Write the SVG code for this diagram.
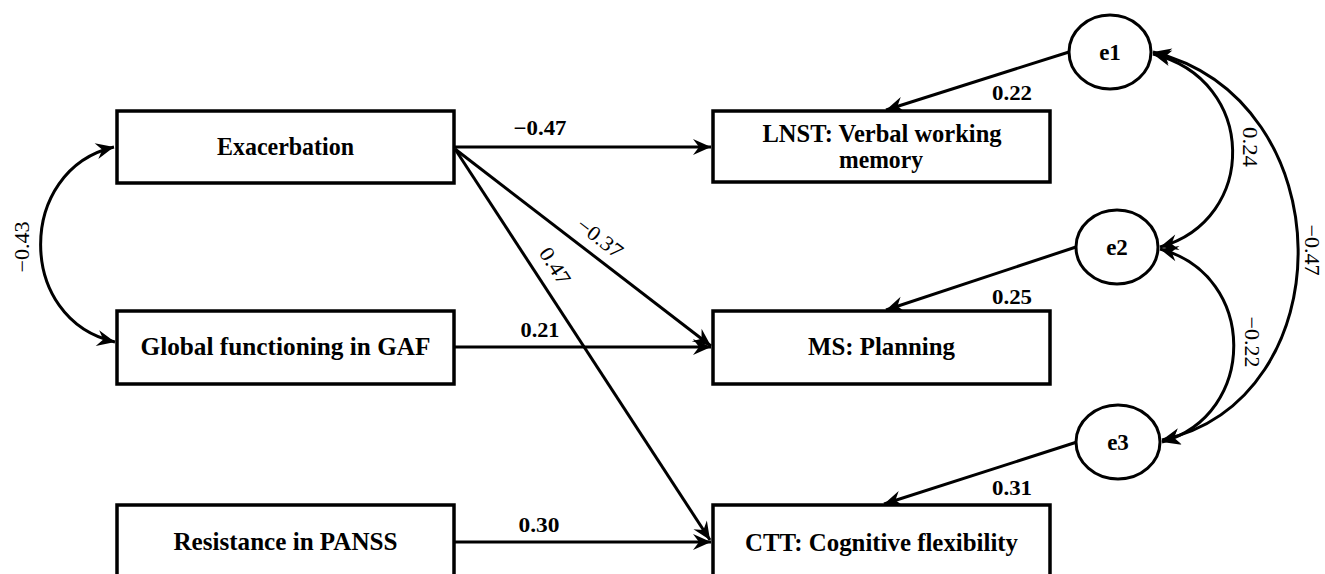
<svg xmlns="http://www.w3.org/2000/svg" width="1325" height="574" viewBox="0 0 1325 574">
<style>
.box{fill:#fff;stroke:#000;stroke-width:3.5}
.ell{fill:#fff;stroke:#000;stroke-width:3}
.lbl{font-family:"Liberation Serif","Times New Roman",serif;font-weight:bold;font-size:25px;text-anchor:middle;fill:#000}
.num{font-family:"Liberation Serif","Times New Roman",serif;font-weight:bold;font-size:21px;text-anchor:middle;fill:#000}
.rnum{font-family:"Liberation Serif","Times New Roman",serif;font-size:21px;text-anchor:middle;fill:#000}
.ln{fill:none;stroke:#000;stroke-width:3}
.one{marker-end:url(#ah)}
.two{marker-start:url(#ah);marker-end:url(#ah)}
</style>
<defs>
<marker id="ah" markerUnits="userSpaceOnUse" markerWidth="24" markerHeight="20" viewBox="-20 -10 24 20" refX="0" refY="0" orient="auto-start-reverse">
<path d="M0,0 L-18,-8 L-12,0 L-18,8 Z" fill="#000"/>
</marker>
</defs>
<rect width="1325" height="574" fill="#fff"/>

<g id="connectors">
<path class="ln two" d="M114,147 C16,170 16,320 115,342"/>
<text class="rnum" transform="translate(29,247) rotate(-90)" x="0" y="0" textLength="51" lengthAdjust="spacingAndGlyphs">−0.43</text>

<path class="ln one" d="M455,147 L711,147"/>
<text class="num" x="540" y="135" textLength="53" lengthAdjust="spacingAndGlyphs">−0.47</text>
<path class="ln one" d="M455,149 L711,346"/>
<text class="rnum" transform="translate(600,238) rotate(37.5)" x="0" y="7" textLength="52" lengthAdjust="spacingAndGlyphs">−0.37</text>
<path class="ln one" d="M455,149 L710,540"/>
<text class="rnum" transform="translate(555,266) rotate(57)" x="0" y="7" textLength="40" lengthAdjust="spacingAndGlyphs">0.47</text>
<path class="ln one" d="M455,347 L711,347"/>
<text class="num" x="540" y="337" textLength="39" lengthAdjust="spacingAndGlyphs">0.21</text>
<path class="ln one" d="M455,542 L711,542"/>
<text class="num" x="539" y="532" textLength="41" lengthAdjust="spacingAndGlyphs">0.30</text>

<path class="ln one" d="M1069,52 L886,110"/>
<text class="num" x="1012" y="100" textLength="40" lengthAdjust="spacingAndGlyphs">0.22</text>
<path class="ln one" d="M1076,247 L886,310"/>
<text class="num" x="1012" y="304" textLength="40" lengthAdjust="spacingAndGlyphs">0.25</text>
<path class="ln one" d="M1077,442 L884,504"/>
<text class="num" x="1012" y="495" textLength="40" lengthAdjust="spacingAndGlyphs">0.31</text>

<path class="ln two" d="M1153,54 C1258,80 1258,220 1160,247"/>
<text class="rnum" transform="translate(1243,147) rotate(90)" x="0" y="0" textLength="40" lengthAdjust="spacingAndGlyphs">0.24</text>
<path class="ln two" d="M1160,249 C1258,275 1258,415 1162,442"/>
<text class="rnum" transform="translate(1245,342) rotate(90)" x="0" y="0" textLength="51" lengthAdjust="spacingAndGlyphs">−0.22</text>
<path class="ln two" d="M1153,52 C1345,100 1345,400 1162,440"/>
<text class="rnum" transform="translate(1305,250) rotate(90)" x="0" y="0" textLength="51" lengthAdjust="spacingAndGlyphs">−0.47</text>
</g>

<g id="n-exacerbation">
<rect class="box" x="117" y="111" width="337" height="72"/>
<text class="lbl" x="285.5" y="155" textLength="137" lengthAdjust="spacingAndGlyphs">Exacerbation</text>
</g>
<g id="n-gaf">
<rect class="box" x="117" y="311" width="337" height="73"/>
<text class="lbl" x="285.5" y="355" textLength="290" lengthAdjust="spacingAndGlyphs">Global functioning in GAF</text>
</g>
<g id="n-panss">
<rect class="box" x="117" y="505" width="337" height="80"/>
<text class="lbl" x="285.5" y="550" textLength="224" lengthAdjust="spacingAndGlyphs">Resistance in PANSS</text>
</g>
<g id="n-lnst">
<rect class="box" x="713" y="111" width="337" height="71"/>
<text class="lbl" x="882" y="142" textLength="239" lengthAdjust="spacingAndGlyphs">LNST: Verbal working</text>
<text class="lbl" x="881" y="168" textLength="84" lengthAdjust="spacingAndGlyphs">memory</text>
</g>
<g id="n-ms">
<rect class="box" x="713" y="311" width="337" height="73"/>
<text class="lbl" x="881.5" y="355" textLength="147" lengthAdjust="spacingAndGlyphs">MS: Planning</text>
</g>
<g id="n-ctt">
<rect class="box" x="713" y="505" width="337" height="80"/>
<text class="lbl" x="881.5" y="551" textLength="273" lengthAdjust="spacingAndGlyphs">CTT: Cognitive flexibility</text>
</g>
<g id="n-e1">
<ellipse class="ell" cx="1110" cy="52" rx="41" ry="37"/>
<text class="lbl" x="1110" y="60" style="font-size:23px">e1</text>
</g>
<g id="n-e2">
<ellipse class="ell" cx="1117" cy="247" rx="41" ry="37"/>
<text class="lbl" x="1117" y="255" style="font-size:23px">e2</text>
</g>
<g id="n-e3">
<ellipse class="ell" cx="1118" cy="442" rx="42" ry="37"/>
<text class="lbl" x="1118" y="450" style="font-size:23px">e3</text>
</g>
</svg>
